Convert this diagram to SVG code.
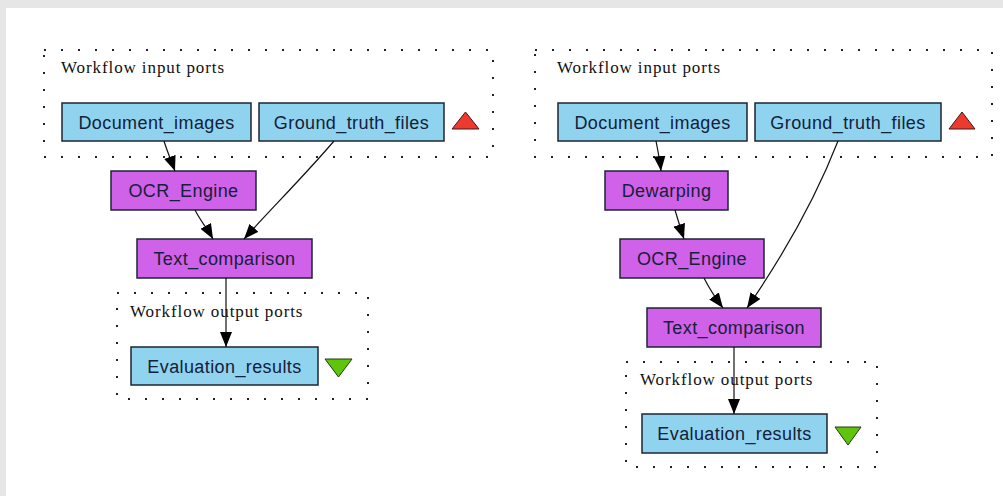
<svg xmlns="http://www.w3.org/2000/svg" width="1003" height="496" viewBox="0 0 1003 496">
  <style>
    .port { fill: #8fd3ef; stroke: #1c2633; stroke-width: 1.5; }
    .proc { fill: #d061e9; stroke: #1c2633; stroke-width: 1.5; }
    .lbl { font-family: "Liberation Sans", Arial, sans-serif; font-size: 18px; letter-spacing: 0.4px; fill: #15203a; text-anchor: middle; }
    .cap { font-family: "Liberation Serif", "Times New Roman", serif; font-size: 17px; letter-spacing: 0.9px; fill: #111; }
    .frame { fill: none; stroke: #222; stroke-width: 2; stroke-dasharray: 2 15; }
    .edge { fill: none; stroke: #111; stroke-width: 1.2; marker-end: url(#arrow); }
    .up { fill: #ee3a2e; stroke: #3a1a1a; stroke-width: 1; }
    .down { fill: #5fc40b; stroke: #1f3a10; stroke-width: 1; }
  </style>
  <defs>
    <marker id="arrow" markerUnits="userSpaceOnUse" markerWidth="15" markerHeight="12" refX="15" refY="6" orient="auto">
      <path d="M0,0 L15,6 L0,12 z" fill="#000"/>
    </marker>
  </defs>

  <!-- page background -->
  <rect x="0" y="0" width="1003" height="496" fill="#e6e6e6"/>
  <rect x="6" y="8" width="997" height="488" fill="#ffffff"/>

  <!-- left workflow -->
  <g id="left-inputs">
    <rect class="frame" x="44" y="50" width="449" height="107"/>
    <text class="cap" x="61" y="73">Workflow input ports</text>
    <polygon class="up" points="452,129 465.5,112 479,129"/>
  </g>
  <g id="left-document-images">
    <rect class="port" x="62" y="103" width="189" height="38"/>
    <text class="lbl" x="156.5" y="128.5">Document_images</text>
  </g>
  <g id="left-ground-truth-files">
    <rect class="port" x="259" y="103" width="185" height="38"/>
    <text class="lbl" x="351.5" y="128.5">Ground_truth_files</text>
  </g>
  <g id="left-ocr-engine">
    <rect class="proc" x="111" y="171" width="145" height="39"/>
    <text class="lbl" x="183.5" y="197">OCR_Engine</text>
  </g>
  <g id="left-text-comparison">
    <rect class="proc" x="137" y="239" width="175" height="39"/>
    <text class="lbl" x="224.5" y="265">Text_comparison</text>
  </g>
  <g id="left-outputs">
    <rect class="frame" x="117" y="293" width="251" height="106"/>
    <text class="cap" x="130" y="317">Workflow output ports</text>
    <polygon class="down" points="325,359 352,359 338.5,377"/>
  </g>
  <g id="left-evaluation-results">
    <rect class="port" x="131" y="347" width="187" height="38"/>
    <text class="lbl" x="224.5" y="372.5">Evaluation_results</text>
  </g>

  <!-- right workflow -->
  <g id="right-inputs">
    <rect class="frame" x="535" y="50" width="457" height="107"/>
    <text class="cap" x="557" y="73">Workflow input ports</text>
    <polygon class="up" points="949,129 962,112 975,129"/>
  </g>
  <g id="right-document-images">
    <rect class="port" x="558" y="103" width="189" height="38"/>
    <text class="lbl" x="652.5" y="128.5">Document_images</text>
  </g>
  <g id="right-ground-truth-files">
    <rect class="port" x="755" y="103" width="186" height="38"/>
    <text class="lbl" x="848" y="128.5">Ground_truth_files</text>
  </g>
  <g id="right-dewarping">
    <rect class="proc" x="605" y="171" width="123" height="39"/>
    <text class="lbl" x="666.5" y="197">Dewarping</text>
  </g>
  <g id="right-ocr-engine">
    <rect class="proc" x="620" y="239" width="144" height="39"/>
    <text class="lbl" x="692" y="265">OCR_Engine</text>
  </g>
  <g id="right-text-comparison">
    <rect class="proc" x="647" y="308" width="174" height="39"/>
    <text class="lbl" x="734" y="334">Text_comparison</text>
  </g>
  <g id="right-outputs">
    <rect class="frame" x="626" y="362" width="251" height="105"/>
    <text class="cap" x="640" y="385">Workflow output ports</text>
    <polygon class="down" points="835,427 861,427 848,445"/>
  </g>
  <g id="right-evaluation-results">
    <rect class="port" x="642" y="414" width="185" height="39"/>
    <text class="lbl" x="734.5" y="440">Evaluation_results</text>
  </g>

  <!-- connectors -->
  <g id="connectors">
    <path class="edge" d="M164,141 C167,151 171,160 175,171"/>
    <path class="edge" d="M195,210 C200,220 208,230 213,239"/>
    <path class="edge" d="M334,141 C305,175 270,210 244,239"/>
    <path class="edge" d="M226,278 L226,347"/>
    <path class="edge" d="M656,141 C658,151 660,161 661,171"/>
    <path class="edge" d="M675,210 C678,220 681,230 684,239"/>
    <path class="edge" d="M838,141 C815,200 780,260 747,308"/>
    <path class="edge" d="M704,278 C710,290 717,300 723,308"/>
    <path class="edge" d="M734,347 L734,414"/>
  </g>
</svg>
